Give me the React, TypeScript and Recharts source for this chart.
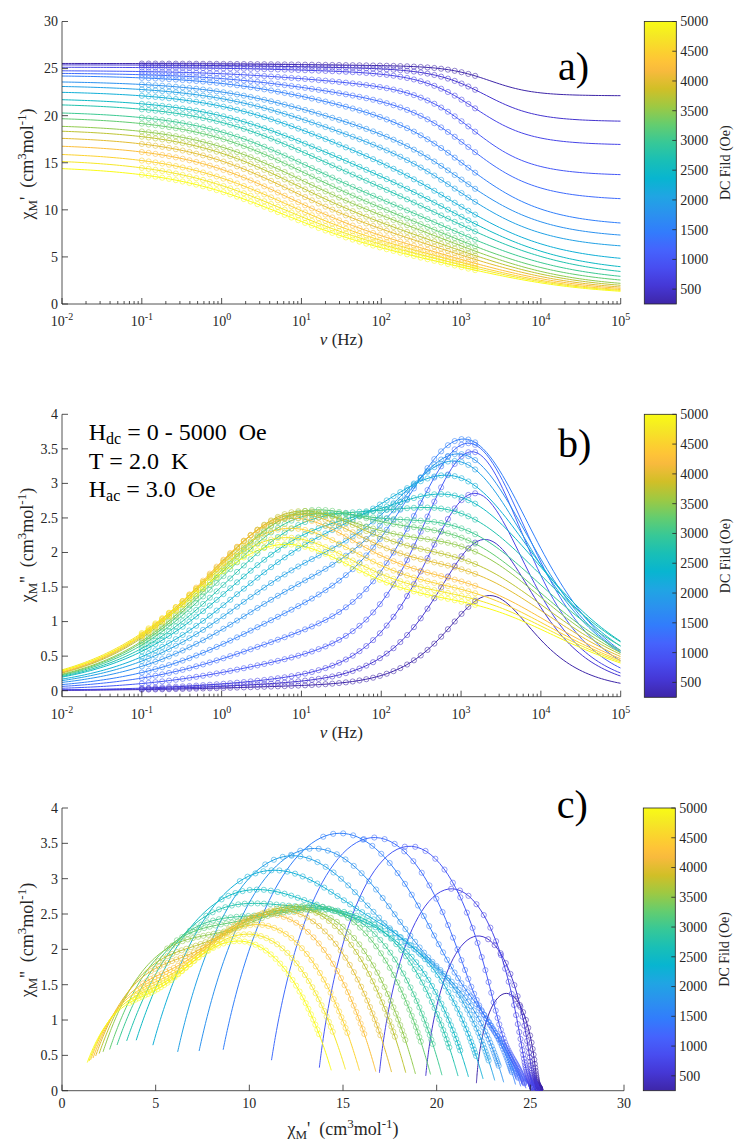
import React from "react";
import { ComposedChart, Line, Scatter, XAxis, YAxis } from "recharts";

// DC fields (Oe), one curve per field
const FIELDS = [250, 500, 750, 1000, 1250, 1500, 1750, 2000, 2250, 2500, 2750, 3000, 3250, 3500, 3750, 4000, 4250, 4500, 4750, 5000];

const CHI_S = [22.1, 19.35, 16.85, 13.6, 10.95, 8.2, 6.9, 5.75, 4.25, 3.2, 2.65, 2.2, 1.9, 1.6, 1.4, 1.25, 1.12, 1.02, 0.95, 0.88];
const FAST_AMP = [3.2, 5.7, 7.8, 9.6, 10.8, 12.2, 11.5, 11.0, 11.2, 10.8, 10.0, 9.0, 8.0, 7.3, 6.6, 6.0, 5.4, 4.95, 4.6, 4.3];
const FAST_PEAK = [2300, 2000, 1500, 1400, 1300, 1200, 1100, 1050, 1000, 1100, 1150, 1200, 1250, 1400, 1500, 1600, 1700, 1800, 1900, 2000];
const FAST_ALPHA = [0.1, 0.17, 0.2, 0.22, 0.28, 0.35, 0.37, 0.38, 0.44, 0.48, 0.5, 0.5, 0.49, 0.48, 0.49, 0.49, 0.5, 0.5, 0.5, 0.5];
const SLOW_AMP = [0.25, 0.35, 0.5, 1.6, 2.8, 3.9, 5.3, 6.5, 7.2, 7.9, 8.7, 9.3, 10.0, 10.2, 10.6, 10.6, 10.5, 10.2, 9.9, 9.5];
const SLOW_PEAK = [10, 8, 8, 10, 10, 10, 10, 10, 10, 9, 9, 8, 8, 7.5, 7, 6.5, 6, 5.5, 5, 5];
const SLOW_ALPHA = [0.5, 0.5, 0.5, 0.5, 0.5, 0.5, 0.5, 0.5, 0.5, 0.5, 0.49, 0.48, 0.48, 0.48, 0.48, 0.48, 0.48, 0.49, 0.5, 0.5];

// measured points: 0.1 Hz .. 1.5 kHz, fit lines: 10^-2 .. 10^5 Hz
const DATA_NU_MIN = 0.1;
const DATA_NU_MAX = 1500;
const DATA_COUNT = 50;

const LOG_TICKS: number[] = [];
for (let e = -2; e < 5; e++) for (let m = 1; m < 10; m++) LOG_TICKS.push(m * Math.pow(10, e));
LOG_TICKS.push(1e5);
const Y_TICKS_A = [0, 5, 10, 15, 20, 25, 30];
const Y_TICKS_BC = [0, 0.5, 1, 1.5, 2, 2.5, 3, 3.5, 4];
const X_TICKS_C = [0, 5, 10, 15, 20, 25, 30];
const CBAR_TICKS = [500, 1000, 1500, 2000, 2500, 3000, 3500, 4000, 4500, 5000];

// parula, [row 0..63, r, g, b]
const PARULA = [
  [0, 0.2422, 0.1504, 0.6603], [4, 0.2706, 0.2147, 0.8364], [8, 0.2813, 0.3006, 0.9414],
  [12, 0.2699, 0.3892, 0.9906], [16, 0.1963, 0.4847, 0.9892], [20, 0.1687, 0.5703, 0.9359],
  [24, 0.1248, 0.6459, 0.8883], [28, 0.0297, 0.7082, 0.8163], [32, 0.0964, 0.75, 0.712],
  [36, 0.2161, 0.7843, 0.5923], [40, 0.3909, 0.8029, 0.4354], [44, 0.6174, 0.7876, 0.2612],
  [48, 0.8203, 0.7498, 0.1535], [52, 0.9728, 0.7298, 0.2394], [54, 0.997, 0.7659, 0.2199],
  [56, 0.9892, 0.8136, 0.1885], [60, 0.9597, 0.9135, 0.1423], [63, 0.9769, 0.9839, 0.0805],
];

const SERIF = "Liberation Serif, Times New Roman, DejaVu Serif, serif";
const AXIS = "#262626";
const serif = { fontFamily: SERIF };

function parula(t: number) {
  const p = Math.min(63, Math.max(0, t * 63));
  let k = 0;
  while (k < PARULA.length - 2 && PARULA[k + 1][0] < p) k++;
  const a = PARULA[k], b = PARULA[k + 1];
  const f = (p - a[0]) / (b[0] - a[0]);
  const c = [1, 2, 3].map((j) => Math.round(255 * (a[j] + (b[j] - a[j]) * f)));
  return `rgb(${c[0]},${c[1]},${c[2]})`;
}

function debye(nu: number, amp: number, peak: number, alpha: number) {
  const x = Math.pow(nu / peak, 1 - alpha);
  const s = Math.sin((Math.PI * alpha) / 2);
  const c = Math.cos((Math.PI * alpha) / 2);
  const d = 1 + 2 * x * s + x * x;
  return [(amp * (1 + x * s)) / d, (amp * x * c) / d];
}

function chi(i: number, nu: number) {
  const f = debye(nu, FAST_AMP[i], FAST_PEAK[i], FAST_ALPHA[i]);
  const s = debye(nu, SLOW_AMP[i], SLOW_PEAK[i], SLOW_ALPHA[i]);
  return [CHI_S[i] + f[0] + s[0], f[1] + s[1]];
}

const LINE_NU = Array.from({ length: 176 }, (_, k) => Math.pow(10, -2 + k / 25));
const DATA_NU = Array.from({ length: DATA_COUNT }, (_, k) =>
  DATA_NU_MIN * Math.pow(DATA_NU_MAX / DATA_NU_MIN, k / (DATA_COUNT - 1))
);

const COLORS = FIELDS.map((h) => parula((h - FIELDS[0]) / (FIELDS[FIELDS.length - 1] - FIELDS[0])));

type Pt = { x: number; y: number };
const build = (nus: number[], mode: "a" | "b" | "c") =>
  FIELDS.map((_, i) =>
    nus.map((nu) => {
      const [re, im] = chi(i, nu);
      if (mode === "a") return { x: nu, y: re };
      if (mode === "b") return { x: nu, y: im };
      return { x: re, y: im };
    })
  );

const isDecade = (v: number) => Math.abs(Math.log10(v) - Math.round(Math.log10(v))) < 1e-6;

const logTick = (dy: number) => (p: any) => {
  const v = p.payload.value;
  const major = isDecade(v);
  return (
    <g>
      <line x1={p.x} x2={p.x} y1={p.y} y2={p.y - (major ? 6 : 3)} stroke={AXIS} strokeWidth={0.8} />
      {major && (
        <text x={p.x} y={p.y + dy} textAnchor="middle" style={serif} fontSize={14} fill={AXIS}>
          <tspan>10</tspan>
          <tspan dy={-6} fontSize={10}>{String(Math.round(Math.log10(v)))}</tspan>
        </text>
      )}
    </g>
  );
};

const linTick = (dy: number) => (p: any) => (
  <g>
    <line x1={p.x} x2={p.x} y1={p.y} y2={p.y - 6} stroke={AXIS} strokeWidth={0.8} />
    <text x={p.x} y={p.y + dy} textAnchor="middle" style={serif} fontSize={14} fill={AXIS}>
      {String(p.payload.value)}
    </text>
  </g>
);

const yTick = (p: any) => (
  <g>
    <line x1={p.x} x2={p.x + 6} y1={p.y} y2={p.y} stroke={AXIS} strokeWidth={0.8} />
    <text x={p.x - 4} y={p.y} dy="0.35em" textAnchor="end" style={serif} fontSize={14} fill={AXIS}>
      {String(p.payload.value)}
    </text>
  </g>
);

function Panel(props: {
  top: number;
  height: number;
  margin: { top: number; right: number; bottom: number; left: number };
  log: boolean;
  xDomain: [number, number];
  xTicks: number[];
  yDomain: [number, number];
  yTicks: number[];
  labelDy: number;
  lines: Pt[][];
  points: Pt[][];
}) {
  const { log } = props;
  return (
    <div style={{ position: "absolute", left: 0, top: props.top }}>
      <ComposedChart width={736} height={props.height} margin={props.margin}>
        <XAxis
          type="number"
          dataKey="x"
          scale={log ? "log" : "linear"}
          domain={props.xDomain}
          ticks={props.xTicks}
          interval={0}
          allowDataOverflow
          tickLine={false}
          tickSize={0}
          tickMargin={0}
          height={30}
          axisLine={{ stroke: AXIS, strokeWidth: 0.8 }}
          tick={log ? logTick(props.labelDy) : linTick(props.labelDy)}
        />
        <YAxis
          type="number"
          dataKey="y"
          domain={props.yDomain}
          ticks={props.yTicks}
          interval={0}
          allowDataOverflow
          tickLine={false}
          tickSize={0}
          tickMargin={0}
          width={60}
          axisLine={{ stroke: AXIS, strokeWidth: 0.8 }}
          tick={yTick}
        />
        {FIELDS.map((h, i) => [
          <Scatter
            key={"s" + h}
            data={props.points[i]}
            fill="none"
            isAnimationActive={false}
            shape={(s: any) => (
              <circle cx={s.cx} cy={s.cy} r={2.6} fill="none" stroke={COLORS[i]} strokeWidth={0.8} strokeOpacity={0.7} />
            )}
          />,
          <Line
            key={"l" + h}
            data={props.lines[i]}
            dataKey="y"
            type="linear"
            stroke={COLORS[i]}
            strokeWidth={1}
            dot={false}
            activeDot={false}
            isAnimationActive={false}
          />,
        ])}
      </ComposedChart>
    </div>
  );
}

function YLabel({ x, y, primes }: { x: number; y: number; primes: string }) {
  return (
    <text transform={`translate(${x}, ${y}) rotate(-90)`} textAnchor="middle" style={serif} fontSize={18} fill={AXIS}>
      <tspan>χ</tspan>
      <tspan fontSize={13} dy={4}>M</tspan>
      <tspan dy={-4}>{primes + "\u00a0\u00a0(cm"}</tspan>
      <tspan fontSize={13} dy={-7}>3</tspan>
      <tspan dy={7}>mol</tspan>
      <tspan fontSize={13} dy={-7}>-1</tspan>
      <tspan dy={7}>)</tspan>
    </text>
  );
}

function NuLabel({ x, y }: { x: number; y: number }) {
  return (
    <text x={x} y={y} textAnchor="middle" style={serif} fontSize={17} fill={AXIS}>
      <tspan fontStyle="italic">ν</tspan>
      <tspan>{"\u00a0(Hz)"}</tspan>
    </text>
  );
}

function ColorBar({ x, y0, y1 }: { x: number; y0: number; y1: number }) {
  const w = 32;
  const h = y1 - y0;
  const yOf = (v: number) => y1 - ((v - FIELDS[0]) / (FIELDS[FIELDS.length - 1] - FIELDS[0])) * h;
  return (
    <g>
      <rect x={x} y={y0} width={w} height={h} fill="url(#parula)" stroke={AXIS} strokeWidth={0.8} />
      {CBAR_TICKS.map((t) => (
        <g key={t}>
          <line x1={x + w} x2={x + w - 4} y1={yOf(t)} y2={yOf(t)} stroke={AXIS} strokeWidth={0.8} />
          <text x={x + w + 4} y={yOf(t)} dy="0.35em" style={serif} fontSize={14} fill={AXIS}>
            {t}
          </text>
        </g>
      ))}
      <text
        transform={`translate(${x + w + 53.5}, ${(y0 + y1) / 2}) rotate(-90)`}
        textAnchor="middle"
        style={serif}
        fontSize={14}
        fill={AXIS}
      >
        DC Fild (Oe)
      </text>
    </g>
  );
}

export default function App() {
  const linesA = build(LINE_NU, "a");
  const pointsA = build(DATA_NU, "a");
  const linesB = build(LINE_NU, "b");
  const pointsB = build(DATA_NU, "b");
  const linesC = build(LINE_NU, "c");
  const pointsC = build(DATA_NU, "c");

  return (
    <div
      style={{
        position: "absolute",
        left: 0,
        top: 0,
        width: 736,
        height: 1142,
        background: "#fff",
        overflow: "hidden",
        fontFamily: SERIF,
      }}
    >
      <Panel
        top={0}
        height={350}
        margin={{ top: 21.5, right: 115.3, bottom: 16, left: 2 }}
        log
        xDomain={[0.01, 1e5]}
        xTicks={LOG_TICKS}
        yDomain={[0, 30]}
        yTicks={Y_TICKS_A}
        labelDy={22}
        lines={linesA}
        points={pointsA}
      />
      <Panel
        top={380}
        height={350}
        margin={{ top: 34.3, right: 115.3, bottom: 3.3, left: 2 }}
        log
        xDomain={[0.01, 1e5]}
        xTicks={LOG_TICKS}
        yDomain={[-0.087, 4]}
        yTicks={Y_TICKS_BC}
        labelDy={22}
        lines={linesB}
        points={pointsB}
      />
      <Panel
        top={770}
        height={372}
        margin={{ top: 38, right: 112, bottom: 21.3, left: 2 }}
        log={false}
        xDomain={[0, 30]}
        xTicks={X_TICKS_C}
        yDomain={[0, 4]}
        yTicks={Y_TICKS_BC}
        labelDy={17.5}
        lines={linesC}
        points={pointsC}
      />
      <svg width={736} height={1142} style={{ position: "absolute", left: 0, top: 0, pointerEvents: "none" }}>
        <defs>
          <linearGradient id="parula" x1="0" y1="1" x2="0" y2="0">
            {PARULA.map((r) => (
              <stop
                key={r[0]}
                offset={r[0] / 63}
                stopColor={`rgb(${Math.round(r[1] * 255)},${Math.round(r[2] * 255)},${Math.round(r[3] * 255)})`}
              />
            ))}
          </linearGradient>
        </defs>

        <YLabel x={33} y={164} primes="'" />
        <NuLabel x={341.35} y={345} />
        <text x={558} y={80} style={serif} fontSize={40} fill="#000">a)</text>
        <ColorBar x={644.3} y0={21.5} y1={304} />

        <YLabel x={33} y={545} primes="''" />
        <NuLabel x={341.35} y={738} />
        <text x={558} y={457} style={serif} fontSize={40} fill="#000">b)</text>
        <g style={serif} fontSize={24} fill="#000">
          <text x={88.7} y={440}>
            <tspan>H</tspan>
            <tspan fontSize={16} dy={4}>dc</tspan>
            <tspan dy={-4}>{"\u00a0=\u00a00\u00a0-\u00a05000\u00a0\u00a0Oe"}</tspan>
          </text>
          <text x={88.7} y={468.5}>{"T\u00a0=\u00a02.0\u00a0\u00a0K"}</text>
          <text x={88.7} y={497}>
            <tspan>H</tspan>
            <tspan fontSize={16} dy={4}>ac</tspan>
            <tspan dy={-4}>{"\u00a0=\u00a03.0\u00a0\u00a0Oe"}</tspan>
          </text>
        </g>
        <ColorBar x={644.3} y0={414.3} y1={697.3} />

        <YLabel x={33} y={940} primes="''" />
        <text x={343} y={1135} textAnchor="middle" style={serif} fontSize={18} fill={AXIS}>
          <tspan>χ</tspan>
          <tspan fontSize={13} dy={4}>M</tspan>
          <tspan dy={-4}>{"'\u00a0\u00a0(cm"}</tspan>
          <tspan fontSize={13} dy={-7}>3</tspan>
          <tspan dy={7}>mol</tspan>
          <tspan fontSize={13} dy={-7}>-1</tspan>
          <tspan dy={7}>)</tspan>
        </text>
        <text x={556.7} y={818} style={serif} fontSize={40} fill="#000">c)</text>
        <ColorBar x={643.3} y0={808} y1={1090.7} />
      </svg>
    </div>
  );
}
